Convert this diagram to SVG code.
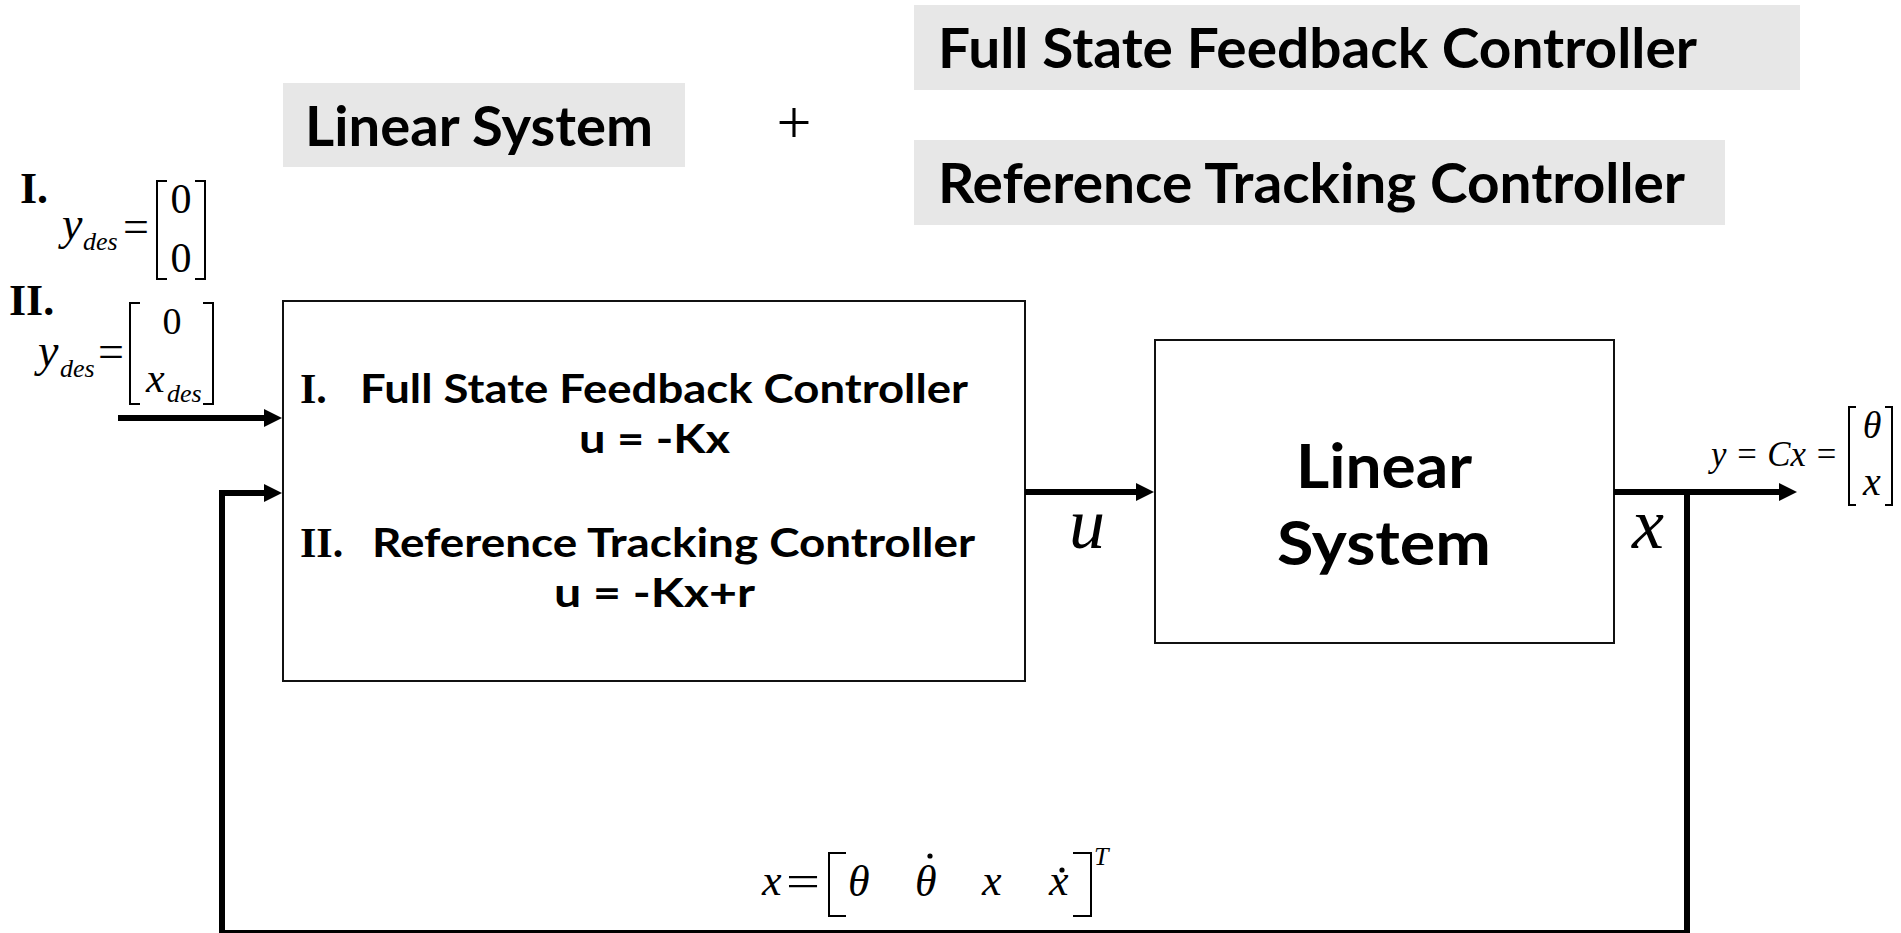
<svg xmlns="http://www.w3.org/2000/svg" width="1901" height="933" viewBox="0 0 1901 933">
<style>
.hdr{fill:#e7e7e7}
.kb{font-family:Lato,"Noto Sans CJK KR",sans-serif;font-weight:bold;fill:#000}
.rb{font-family:"Liberation Serif","Times New Roman",serif;font-weight:bold;fill:#000}
.mi{font-family:"Liberation Serif","Times New Roman",serif;font-style:italic;fill:#000}
.mr{font-family:"Liberation Serif","Times New Roman",serif;fill:#000}
.box{fill:#fff;stroke:#111;stroke-width:2}
.br{fill:none;stroke:#000;stroke-width:2}
.wire{fill:none;stroke:#000;stroke-width:6}
</style>
<defs>
<marker id="ah" markerUnits="userSpaceOnUse" markerWidth="18" markerHeight="18" viewBox="0 0 18 18" refX="1" refY="9" orient="auto">
<path d="M0,0 L18,9 L0,18 z" fill="#000"/>
</marker>
</defs>
<rect width="1901" height="933" fill="#fff"/>

<g id="title-linear-system">
<rect class="hdr" x="283" y="83" width="402" height="84"/>
<text class="kb" x="305" y="146" font-size="55" textLength="348" lengthAdjust="spacingAndGlyphs">Linear System</text>
</g>
<g id="title-plus">
<text class="mr" x="794" y="143" font-size="62" text-anchor="middle">+</text>
</g>
<g id="title-fsf">
<rect class="hdr" x="914" y="5" width="886" height="85"/>
<text class="kb" x="938" y="68" font-size="55" textLength="759" lengthAdjust="spacingAndGlyphs">Full State Feedback Controller</text>
</g>
<g id="title-rtc">
<rect class="hdr" x="914" y="140" width="811" height="85"/>
<text class="kb" x="938" y="203" font-size="55" textLength="747" lengthAdjust="spacingAndGlyphs">Reference Tracking Controller</text>
</g>

<g id="ydes-labels">
<text class="rb" x="20" y="203" font-size="44">I.</text>
<text class="mi" x="62" y="239" font-size="46">y</text>
<text class="mi" x="83" y="250" font-size="26">des</text>
<text class="mr" x="123" y="242" font-size="46">=</text>
<path class="br" d="M167,181 H157 V279 H167 M195,181 H205 V279 H195"/>
<text class="mr" x="181" y="213" font-size="42" text-anchor="middle">0</text>
<text class="mr" x="181" y="272" font-size="42" text-anchor="middle">0</text>

<text class="rb" x="9" y="315" font-size="44">II.</text>
<text class="mi" x="38" y="366" font-size="46">y</text>
<text class="mi" x="60" y="377" font-size="26">des</text>
<text class="mr" x="98" y="367" font-size="46">=</text>
<path class="br" d="M140,303 H130 V404 H140 M203,303 H213 V404 H203"/>
<text class="mr" x="172" y="334" font-size="38" text-anchor="middle">0</text>
<text class="mi" x="146" y="392" font-size="42">x</text>
<text class="mi" x="167" y="402" font-size="26">des</text>
</g>

<g id="controller">
<rect class="box" x="283" y="301" width="742" height="380"/>
<text class="rb" x="300" y="403" font-size="42">I.</text>
<text class="kb" x="360" y="403" font-size="41" textLength="608" lengthAdjust="spacingAndGlyphs">Full State Feedback Controller</text>
<text class="kb" x="579" y="453" font-size="41" textLength="151" lengthAdjust="spacingAndGlyphs">u = -Kx</text>
<text class="rb" x="300" y="557" font-size="42">II.</text>
<text class="kb" x="372" y="557" font-size="41" textLength="603" lengthAdjust="spacingAndGlyphs">Reference Tracking Controller</text>
<text class="kb" x="554" y="607" font-size="41" textLength="201" lengthAdjust="spacingAndGlyphs">u = -Kx+r</text>
</g>

<g id="linear-system">
<rect class="box" x="1155" y="340" width="459" height="303"/>
<text class="kb" x="1384" y="488" font-size="61" text-anchor="middle" textLength="176" lengthAdjust="spacingAndGlyphs">Linear</text>
<text class="kb" x="1384" y="565" font-size="61" text-anchor="middle" textLength="214" lengthAdjust="spacingAndGlyphs">System</text>
</g>

<g id="connectors">
<line class="wire" x1="118" y1="418" x2="265" y2="418" marker-end="url(#ah)"/>
<path class="wire" d="M1687,492 V933 H222 V493 H265" marker-end="url(#ah)"/>
<line class="wire" x1="1025" y1="492" x2="1137" y2="492" marker-end="url(#ah)"/>
<line class="wire" x1="1614" y1="492" x2="1780" y2="492" marker-end="url(#ah)"/>
</g>

<g id="signal-labels">
<text class="mi" x="1069" y="548" font-size="72">u</text>
<text class="mi" x="1632" y="548" font-size="72">x</text>
<text class="mi" x="1711" y="466" font-size="35" textLength="127" lengthAdjust="spacingAndGlyphs">y = Cx =</text>
<path class="br" d="M1856,407 H1849 V505 H1856 M1885,407 H1892 V505 H1885"/>
<text class="mi" x="1872" y="438" font-size="38" text-anchor="middle">θ</text>
<text class="mi" x="1872" y="495" font-size="40" text-anchor="middle">x</text>

<text class="mi" x="762" y="895" font-size="44">x</text>
<text class="mr" x="786" y="896" font-size="44" textLength="34" lengthAdjust="spacingAndGlyphs">=</text>
<path class="br" d="M846,853 H829 V916 H846 M1073,853 H1091 V916 H1073"/>
<text class="mi" x="848" y="896" font-size="44">θ</text>
<text class="mi" x="915" y="896" font-size="44">θ</text>
<circle cx="930" cy="856" r="2.6" fill="#000"/>
<text class="mi" x="982" y="895" font-size="44">x</text>
<text class="mi" x="1049" y="895" font-size="44">x</text>
<circle cx="1062" cy="870" r="2.6" fill="#000"/>
<text class="mi" x="1094" y="865" font-size="26">T</text>
</g>
</svg>
